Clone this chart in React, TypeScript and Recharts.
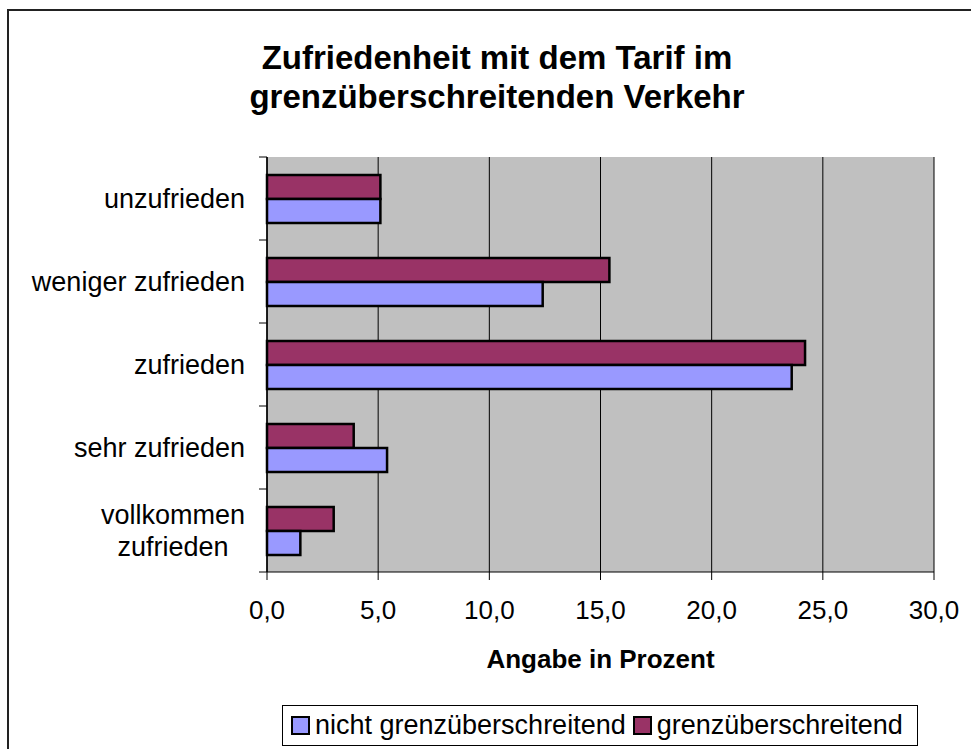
import { BarChart, Bar, XAxis, YAxis, CartesianGrid, Legend, Label } from "recharts";

// categories top to bottom
const categories = [
    "unzufrieden",
    "weniger zufrieden",
    "zufrieden",
    "sehr zufrieden",
    "vollkommen zufrieden",
];
const nichtGrenz = [5.1, 12.4, 23.6, 5.4, 1.5];
const grenz = [5.1, 15.4, 24.2, 3.9, 3.0];
const xTicks = [0, 5, 10, 15, 20, 25, 30];

const seriesNames = {
    nicht: "nicht grenzüberschreitend",
    grenz: "grenzüberschreitend",
};
const colors = { nicht: "#9999FF", grenz: "#993366" };

const data = categories.map((name, i) => ({
    name,
    nicht: nichtGrenz[i],
    grenz: grenz[i],
}));

const FONT = "Arial, 'Liberation Sans', sans-serif";
const LABEL_SIZE = 27;
const TICK_SIZE = 26;

let ctx: CanvasRenderingContext2D | null = null;
function textWidth(s: string) {
    if (!ctx) ctx = document.createElement("canvas").getContext("2d");
    if (!ctx) return s.length * 13;
    ctx.font = `${LABEL_SIZE}px Arial, 'Liberation Sans'`;
    return ctx.measureText(s).width;
}

function wrap(label: string, maxWidth: number) {
    const words = label.split(" ");
    const lines: string[] = [];
    let cur = "";
    for (const w of words) {
        const next = cur ? cur + " " + w : w;
        if (cur && textWidth(next) > maxWidth) {
            lines.push(cur);
            cur = w;
        } else {
            cur = next;
        }
    }
    if (cur) lines.push(cur);
    return lines;
}

function CategoryTick(props: any) {
    const { x, y, payload, index } = props;
    const half = payload.offset ?? 0;
    const axisX = x + 22;
    const lines = wrap(String(payload.value), 228);
    const maxW = Math.max(...lines.map(textWidth));
    const lineGap = 32;
    return (
        <g>
            <line x1={axisX - 8} x2={axisX} y1={y - half} y2={y - half} stroke="#000" />
            {index === categories.length - 1 && (
                <line x1={axisX - 8} x2={axisX} y1={y + half} y2={y + half} stroke="#000" />
            )}
            {lines.map((ln, i) => (
                <text
                    key={i}
                    x={lines.length > 1 ? x - maxW / 2 : x}
                    y={y + (i - (lines.length - 1) / 2) * lineGap}
                    dy="0.36em"
                    textAnchor={lines.length > 1 ? "middle" : "end"}
                    fontSize={LABEL_SIZE}
                    fontFamily={FONT}
                    fill="#000"
                >
                    {ln}
                </text>
            ))}
        </g>
    );
}

function LegendBox() {
    const items: ("nicht" | "grenz")[] = ["nicht", "grenz"];
    return (
        <div
            style={{
                border: "1px solid #000",
                background: "#fff",
                height: 41,
                boxSizing: "border-box",
                display: "flex",
                alignItems: "center",
                paddingLeft: 8,
                fontFamily: FONT,
                fontSize: LABEL_SIZE,
                color: "#000",
            }}
        >
            {items.map((k) => (
                <div key={k} style={{ display: "flex", alignItems: "center", marginRight: 7 }}>
                    <span
                        style={{
                            width: 19,
                            height: 19,
                            boxSizing: "border-box",
                            border: "2.5px solid #000",
                            background: colors[k],
                            marginRight: 5,
                            display: "inline-block",
                        }}
                    />
                    <span>{seriesNames[k]}</span>
                </div>
            ))}
        </div>
    );
}

export default function App() {
    return (
        <div
            style={{
                position: "fixed",
                left: 0,
                top: 0,
                width: 971,
                height: 749,
                overflow: "hidden",
                background: "#fff",
                fontFamily: FONT,
            }}
        >
            {/* chart frame, runs off the right and bottom edges */}
            <div
                style={{
                    position: "absolute",
                    left: 7,
                    top: 9,
                    width: 1000,
                    height: 800,
                    border: "2px solid #222",
                }}
            />
            <div
                style={{
                    position: "absolute",
                    left: 0,
                    top: 38,
                    width: 994,
                    textAlign: "center",
                    fontWeight: "bold",
                    fontSize: 33,
                    lineHeight: "39px",
                    color: "#000",
                }}
            >
                Zufriedenheit mit dem Tarif im
                <br />
                grenzüberschreitenden Verkehr
            </div>
            <div style={{ position: "absolute", left: 0, top: 0 }}>
                <BarChart
                    width={971}
                    height={749}
                    data={data}
                    layout="vertical"
                    margin={{ top: 157, right: 37, bottom: 67, left: 0 }}
                    barGap={0}
                >
                    <CartesianGrid horizontal={false} stroke="#000" fill="#C0C0C0" />
                    <XAxis
                        type="number"
                        domain={[0, 30]}
                        ticks={xTicks}
                        interval={0}
                        height={110}
                        tickSize={8}
                        tickMargin={21}
                        tickFormatter={(v: number) => v.toFixed(1).replace(".", ",")}
                        tick={{ fill: "#000", fontSize: TICK_SIZE, fontFamily: FONT }}
                        axisLine={{ stroke: "#000" }}
                        tickLine={{ stroke: "#000" }}
                    >
                        <Label
                            value="Angabe in Prozent"
                            position="insideBottom"
                            offset={14}
                            style={{ fontWeight: "bold", fontSize: TICK_SIZE, fill: "#000", fontFamily: FONT }}
                        />
                    </XAxis>
                    <XAxis
                        xAxisId="top"
                        orientation="top"
                        type="number"
                        domain={[0, 30]}
                        height={0}
                        tick={false}
                        axisLine={{ stroke: "#808080", strokeWidth: 2 }}
                    />
                    <YAxis
                        type="category"
                        dataKey="name"
                        width={267}
                        tickSize={8}
                        tickMargin={14}
                        tickLine={false}
                        interval={0}
                        tick={(p: any) => <CategoryTick {...p} />}
                        axisLine={{ stroke: "#000", strokeWidth: 1.5 }}
                    />
                    <YAxis
                        yAxisId="right"
                        orientation="right"
                        type="number"
                        domain={[0, 1]}
                        width={0}
                        tick={false}
                        axisLine={{ stroke: "#808080", strokeWidth: 2 }}
                    />
                    <Legend
                        layout="horizontal"
                        verticalAlign="middle"
                        align="center"
                        wrapperStyle={{ left: 282, top: 705, width: 636, height: 41 }}
                        content={() => <LegendBox />}
                    />
                    <Bar
                        dataKey="grenz"
                        name={seriesNames.grenz}
                        fill={colors.grenz}
                        stroke="#000"
                        strokeWidth={2.5}
                        barSize={24}
                        isAnimationActive={false}
                    />
                    <Bar
                        dataKey="nicht"
                        name={seriesNames.nicht}
                        fill={colors.nicht}
                        stroke="#000"
                        strokeWidth={2.5}
                        barSize={24}
                        isAnimationActive={false}
                    />
                </BarChart>
            </div>
        </div>
    );
}
